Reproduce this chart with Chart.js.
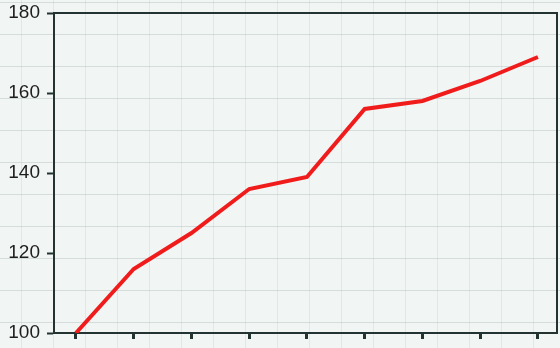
<!DOCTYPE html>
<html>
<head>
<meta charset="utf-8">
<script src="https://cdn.jsdelivr.net/npm/chart.js@4"></script>
<style>
  html, body { margin: 0; padding: 0; }
  body {
    width: 560px; height: 348px; overflow: hidden;
    background-color: #f1f5f4;
    background-image:
      linear-gradient(to bottom, rgba(185,196,194,0.5) 1px, transparent 1px),
      linear-gradient(to right, rgba(190,200,198,0.3) 1px, transparent 1px);
    background-size: 32px 32px;
    background-position: 21px 2px;
  }
  #wrap { width: 560px; height: 348px; position: relative; }
</style>
</head>
<body>
<div id="wrap"><canvas id="myChart"></canvas></div>
<script>
// points along the x axis (no labels shown in the picture)
const positions = [0, 1, 2, 3, 4, 5, 6, 7, 8];
const values = [100, 116, 125, 136, 139, 156, 158, 163, 169];
const yTicks = [100, 120, 140, 160, 180];

const ink = '#233331';

const ctx = document.getElementById('myChart').getContext('2d');
const chart = new Chart(ctx, {
  type: 'line',
  data: {
    datasets: [{
      data: positions.map((p, i) => ({ x: p, y: values[i] })),
      borderColor: '#f01c1c',
      borderWidth: 4,
      pointRadius: 0,
      tension: 0,
      fill: false
    }]
  },
  options: {
    responsive: true,
    maintainAspectRatio: false,
    animation: false,
    layout: { padding: { top: 13, right: 3, left: 0, bottom: 0 } },
    plugins: { legend: { display: false }, tooltip: { enabled: false } },
    scales: {
      x: {
        type: 'linear',
        min: -0.38,
        max: 8.33,
        border: { display: true, color: ink, width: 2 },
        grid: { drawOnChartArea: false, drawTicks: true, tickLength: 6, tickWidth: 3, color: ink },
        ticks: { stepSize: 1, includeBounds: false, display: false },
        afterFit: s => { s.height = 15; }
      },
      y: {
        min: yTicks[0],
        max: yTicks[yTicks.length - 1],
        border: { display: true, color: ink, width: 2 },
        grid: { drawOnChartArea: false, drawTicks: true, tickLength: 7, tickWidth: 2, color: ink, tickColor: ink },
        ticks: {
          stepSize: 20,
          padding: 7,
          color: '#1e1e1e',
          font: { family: 'Liberation Sans', size: 19, lineHeight: 0.5 }
        },
        afterBuildTicks: s => { s.ticks = yTicks.map(v => ({ value: v })); },
        afterFit: s => { s.width = 54; }
      },
      xTop: {
        type: 'linear',
        position: 'top',
        min: -0.38,
        max: 8.33,
        border: { display: true, color: ink, width: 2 },
        grid: { display: false },
        ticks: { display: false },
        afterFit: s => { s.height = 0; }
      },
      yRight: {
        position: 'right',
        min: yTicks[0],
        max: yTicks[yTicks.length - 1],
        border: { display: true, color: ink, width: 2 },
        grid: { display: false },
        ticks: { display: false },
        afterFit: s => { s.width = 0; }
      }
    }
  }
});
</script>
</body>
</html>
